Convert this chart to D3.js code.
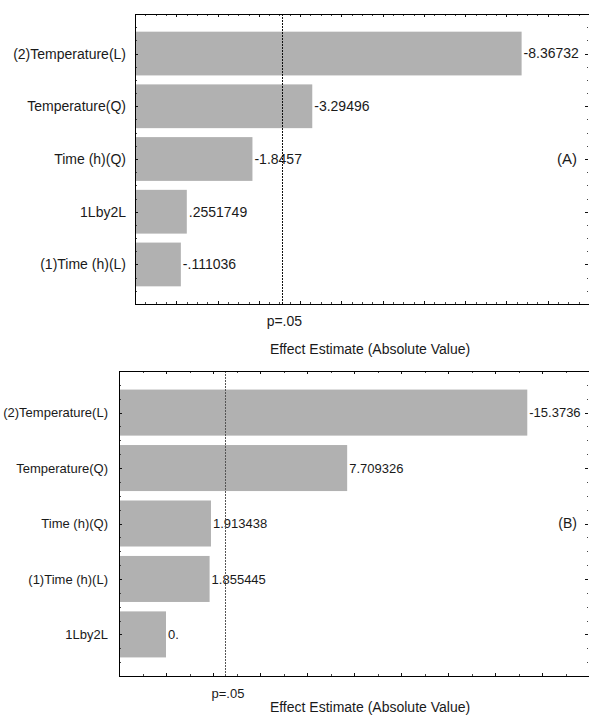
<!DOCTYPE html>
<html>
<head>
<meta charset="utf-8">
<script src="https://cdn.jsdelivr.net/npm/d3@7"></script>
<style>
  body { margin: 0; background: #fff; }
  svg { display: block; font-family: "Liberation Sans", Arial, sans-serif; }
  .axis path, .axis line { stroke: #111; shape-rendering: crispEdges; }
  .minor line { stroke: #444; }
</style>
</head>
<body>
<div id="chart"></div>
<script>
// panel (A)
const catsA = ["(2)Temperature(L)", "Temperature(Q)", "Time (h)(Q)", "1Lby2L", "(1)Time (h)(L)"];
const valsA = [-8.36732, -3.29496, -1.8457, 0.2551749, -0.111036];
const labelsA = ["-8.36732", "-3.29496", "-1.8457", ".2551749", "-.111036"];
const pCritA = 2.5706;

// panel (B)
const catsB = ["(2)Temperature(L)", "Temperature(Q)", "Time (h)(Q)", "(1)Time (h)(L)", "1Lby2L"];
const valsB = [-15.3736, 7.709326, 1.913438, 1.855445, 0];
const labelsB = ["-15.3736", "7.709326", "1.913438", "1.855445", "0."];
const pCritB = 2.51;

const width = 589, height = 723;

const svg = d3.select("#chart")
    .append("svg")
    .attr("width", width)
    .attr("height", height);

const drawPanel = (p) => {
    const g = svg.append("g");

    const x = d3.scaleLinear().domain(p.xDomain).range([p.left, p.right]);
    // categories sit at 1..5, frame runs from .25 to 5.75
    const y = d3.scaleLinear().domain([0.25, 5.75]).range([p.top, p.bottom]);
    const barH = (y(1) - y(0)) * 0.83;

    const majorX = d3.range(Math.ceil(p.xDomain[0] / p.major) * p.major, p.xDomain[1] + 0.001, p.major);
    const minorX = d3.range(p.xDomain[0], p.xDomain[1] + 0.001, p.minor).filter(v => !majorX.some(m => Math.abs(m - v) < 1e-6));
    const majorY = d3.range(1, 6);
    const minorY = d3.range(0.25, 5.76, 0.25).filter(v => Math.abs(v - Math.round(v)) > 1e-6 || v < 1);

    // bars
    g.selectAll("rect.bar")
      .data(p.vals)
      .join("rect")
        .attr("class", "bar")
        .attr("x", x(p.xDomain[0]))
        .attr("y", (d, i) => y(i + 1) - barH / 2)
        .attr("width", d => x(Math.abs(d)) - x(p.xDomain[0]))
        .attr("height", barH)
        .attr("fill", "#b1b1b1");

    // value labels
    g.selectAll("text.val")
      .data(p.vals)
      .join("text")
        .attr("class", "val")
        .attr("x", d => x(Math.abs(d)) + 2)
        .attr("y", (d, i) => y(i + 1))
        .attr("dy", "0.35em")
        .attr("font-size", p.fontSize)
        .attr("fill", "#1a1a1a")
        .text((d, i) => p.labels[i]);

    // p=.05 line
    g.append("line")
        .attr("x1", Math.round(x(p.pCrit)) + 0.5)
        .attr("x2", Math.round(x(p.pCrit)) + 0.5)
        .attr("y1", p.top)
        .attr("y2", p.bottom)
        .attr("stroke", p.pColor)
        .attr("stroke-width", 1)
        .attr("stroke-dasharray", "2,1");

    // axes, ticks all point inward
    g.append("g").attr("class", "axis")
        .attr("transform", `translate(0,${p.bottom})`)
        .call(d3.axisBottom(x).tickValues(majorX).tickSizeInner(-3).tickSizeOuter(0).tickFormat(""));
    g.append("g").attr("class", "axis minor")
        .attr("transform", `translate(0,${p.bottom})`)
        .call(d3.axisBottom(x).tickValues(minorX).tickSize(-2).tickFormat(""))
        .select(".domain").remove();

    g.append("g").attr("class", "axis")
        .attr("transform", `translate(0,${p.top})`)
        .call(d3.axisTop(x).tickValues(majorX).tickSizeInner(-3).tickSizeOuter(0).tickFormat(""));
    g.append("g").attr("class", "axis minor")
        .attr("transform", `translate(0,${p.top})`)
        .call(d3.axisTop(x).tickValues(minorX).tickSize(-2).tickFormat(""))
        .select(".domain").remove();

    const left = g.append("g").attr("class", "axis")
        .attr("transform", `translate(${p.left},0)`)
        .call(d3.axisLeft(y).tickValues(majorY).tickSizeInner(-3).tickSizeOuter(0).tickPadding(p.labelPad)
            .tickFormat(d => p.cats[d - 1]));
    left.selectAll("text").attr("font-size", p.fontSize).attr("fill", "#1a1a1a")
        .attr("font-family", "Liberation Sans, Arial, sans-serif");
    g.append("g").attr("class", "axis minor")
        .attr("transform", `translate(${p.left},0)`)
        .call(d3.axisLeft(y).tickValues(minorY).tickSize(-2).tickFormat(""))
        .select(".domain").remove();

    g.append("g").attr("class", "axis")
        .attr("transform", `translate(${p.right - 1},0)`)
        .call(d3.axisRight(y).tickValues(majorY).tickSize(-3).tickFormat(""))
        .select(".domain").remove();
    g.append("g").attr("class", "axis minor")
        .attr("transform", `translate(${p.right - 1},0)`)
        .call(d3.axisRight(y).tickValues(minorY).tickSize(-1).tickFormat(""))
        .select(".domain").remove();

    // frame lines (left, top, bottom)
    g.append("path")
        .attr("d", `M${p.right},${p.top + 0.5}H${p.left + 0.5}V${p.bottom + 0.5}H${p.right}`)
        .attr("fill", "none")
        .attr("stroke", "#000")
        .attr("stroke-width", 1)
        .attr("shape-rendering", "crispEdges");

    // texts
    g.append("text")
        .attr("x", x(p.pCrit) + p.pShift)
        .attr("y", p.bottom + 22)
        .attr("text-anchor", "middle")
        .attr("font-size", p.fontSize)
        .attr("fill", "#1a1a1a")
        .text("p=.05");

    g.append("text")
        .attr("x", 370)
        .attr("y", p.titleY)
        .attr("text-anchor", "middle")
        .attr("font-size", 14)
        .attr("fill", "#1a1a1a")
        .text("Effect Estimate (Absolute Value)");

    g.append("text")
        .attr("x", 577)
        .attr("y", y(3))
        .attr("dy", "0.35em")
        .attr("text-anchor", "end")
        .attr("font-size", p.fontSize + 1)
        .attr("fill", "#1a1a1a")
        .text(p.tag);
};

drawPanel({
    cats: catsA, vals: valsA, labels: labelsA, pCrit: pCritA,
    left: 135, right: 589, top: 14, bottom: 304,
    xDomain: [-1, 10], major: 1, minor: 0.25,
    fontSize: 14, labelPad: 9, pColor: "#111", pShift: 2,
    titleY: 354, tag: "(A)"
});

drawPanel({
    cats: catsB, vals: valsB, labels: labelsB, pCrit: pCritB,
    left: 119, right: 589, top: 371, bottom: 676,
    xDomain: [-2, 18], major: 2, minor: 1,
    fontSize: 13, labelPad: 11, pColor: "#555", pShift: 3,
    titleY: 712, tag: "(B)"
});
</script>
</body>
</html>
